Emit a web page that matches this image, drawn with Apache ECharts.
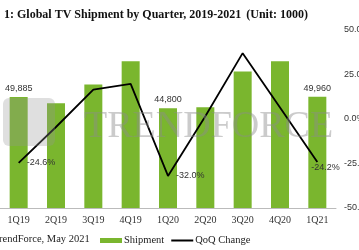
<!DOCTYPE html>
<html>
<head>
<meta charset="utf-8">
<script src="https://cdn.jsdelivr.net/npm/echarts@6/dist/echarts.min.js"></script>
<style>
  html, body { margin: 0; padding: 0; background: #fff; }
  #chart { width: 359px; height: 250px; }
</style>
</head>
<body>
<div id="chart"></div>
<script>
// quarters and values (shipments in 1000 units)
var quarters = ['1Q19', '2Q19', '3Q19', '4Q19', '1Q20', '2Q20', '3Q20', '4Q20', '1Q21'];
var shipment = [49885, 47100, 55500, 66000, 44800, 45300, 61300, 65900, 49960];
var qoqChange = [-24.6, -4.5, 16.5, 19.7, -32.0, 1.5, 37.0, 6.5, -24.2];
var shipmentLabeled = [0, 4, 8];
var qoqLabeled = [0, 4, 8];
var qoqTicks = [-50, -25, 0, 25, 50];

var serifFont = '"Liberation Serif", serif';
var sansFont = '"Liberation Sans", sans-serif';

var barData = shipment.map(function (v, i) {
  return {
    value: v,
    label: { show: shipmentLabeled.indexOf(i) >= 0 }
  };
});
var lineData = qoqChange.map(function (v, i) {
  var item = { value: v, label: { show: qoqLabeled.indexOf(i) >= 0 } };
  if (i === qoqChange.length - 1) item.label.offset = [-14, 5];
  return item;
});

var myChart = echarts.init(document.getElementById('chart'));
myChart.setOption({
  animation: false,
  title: {
    text: '{b|1: Global TV Shipment by Quarter, 2019-2021} {n|(Unit: 1000)}',
    left: -1,
    top: 1,
    textStyle: {
      rich: {
        b: { fontFamily: serifFont, fontWeight: 'bold', fontSize: 12, color: '#111' },
        n: { fontFamily: serifFont, fontSize: 12, color: '#111' }
      }
    }
  },
  graphic: [
    {
      type: 'rect',
      shape: { x: 3, y: 98, width: 52, height: 48, r: 6 },
      style: { fill: 'rgba(150,150,150,0.3)' },
      z: 100
    },
    {
      type: 'text',
      left: 84,
      top: 108,
      style: {
        text: 'TRENDFORCE',
        font: '38px "Liberation Serif", serif',
        fill: 'rgba(140,140,140,0.45)'
      },
      z: 100
    },
    {
      type: 'text',
      left: -7,
      top: 234,
      style: {
        text: 'TrendForce, May 2021',
        font: '10.5px "Liberation Serif", serif',
        fill: '#222'
      }
    }
  ],
  legend: {
    left: 100,
    top: 235,
    padding: 0,
    itemWidth: 22,
    itemHeight: 5,
    itemGap: 6,
    textStyle: { fontFamily: serifFont, fontSize: 10.5, color: '#222', padding: [0, 0, 0, -3] },
    data: [
      { name: 'Shipment', icon: 'rect' },
      { name: 'QoQ Change', itemStyle: { opacity: 0 } }
    ]
  },
  grid: { left: 0, right: 23, top: 30, bottom: 42, outerBoundsMode: 'none' },
  xAxis: {
    type: 'category',
    data: quarters,
    axisLine: { lineStyle: { color: '#bbb' } },
    axisTick: { show: false },
    axisLabel: { fontFamily: serifFont, fontSize: 10, color: '#333', margin: 7 }
  },
  yAxis: [
    {
      type: 'value',
      min: 0,
      max: 80000,
      show: false,
      splitLine: { show: false }
    },
    {
      type: 'value',
      position: 'right',
      min: qoqTicks[0],
      max: qoqTicks[qoqTicks.length - 1],
      interval: 25,
      splitLine: { show: false },
      axisLine: { show: false },
      axisTick: { show: false },
      axisLabel: {
        fontFamily: sansFont,
        fontSize: 9,
        color: '#333',
        margin: 8,
        formatter: function (v) { return v.toFixed(1) + '%'; }
      }
    }
  ],
  series: [
    {
      name: 'Shipment',
      type: 'bar',
      yAxisIndex: 0,
      barWidth: 18,
      data: barData,
      itemStyle: { color: '#7ab62e' },
      label: {
        position: 'top',
        distance: 4,
        fontFamily: sansFont,
        fontSize: 9,
        color: '#333',
        formatter: function (p) { return p.value.toLocaleString('en-US'); }
      }
    },
    {
      name: 'QoQ Change',
      type: 'line',
      yAxisIndex: 1,
      data: lineData,
      symbol: 'circle',
      symbolSize: 0,
      lineStyle: { color: '#000', width: 1.8 },
      itemStyle: { color: '#000' },
      label: {
        position: 'right',
        distance: 8,
        fontFamily: sansFont,
        fontSize: 9,
        color: '#333',
        formatter: function (p) { return p.value.toFixed(1) + '%'; }
      },
      z: 3
    }
  ]
});
</script>
</body>
</html>
